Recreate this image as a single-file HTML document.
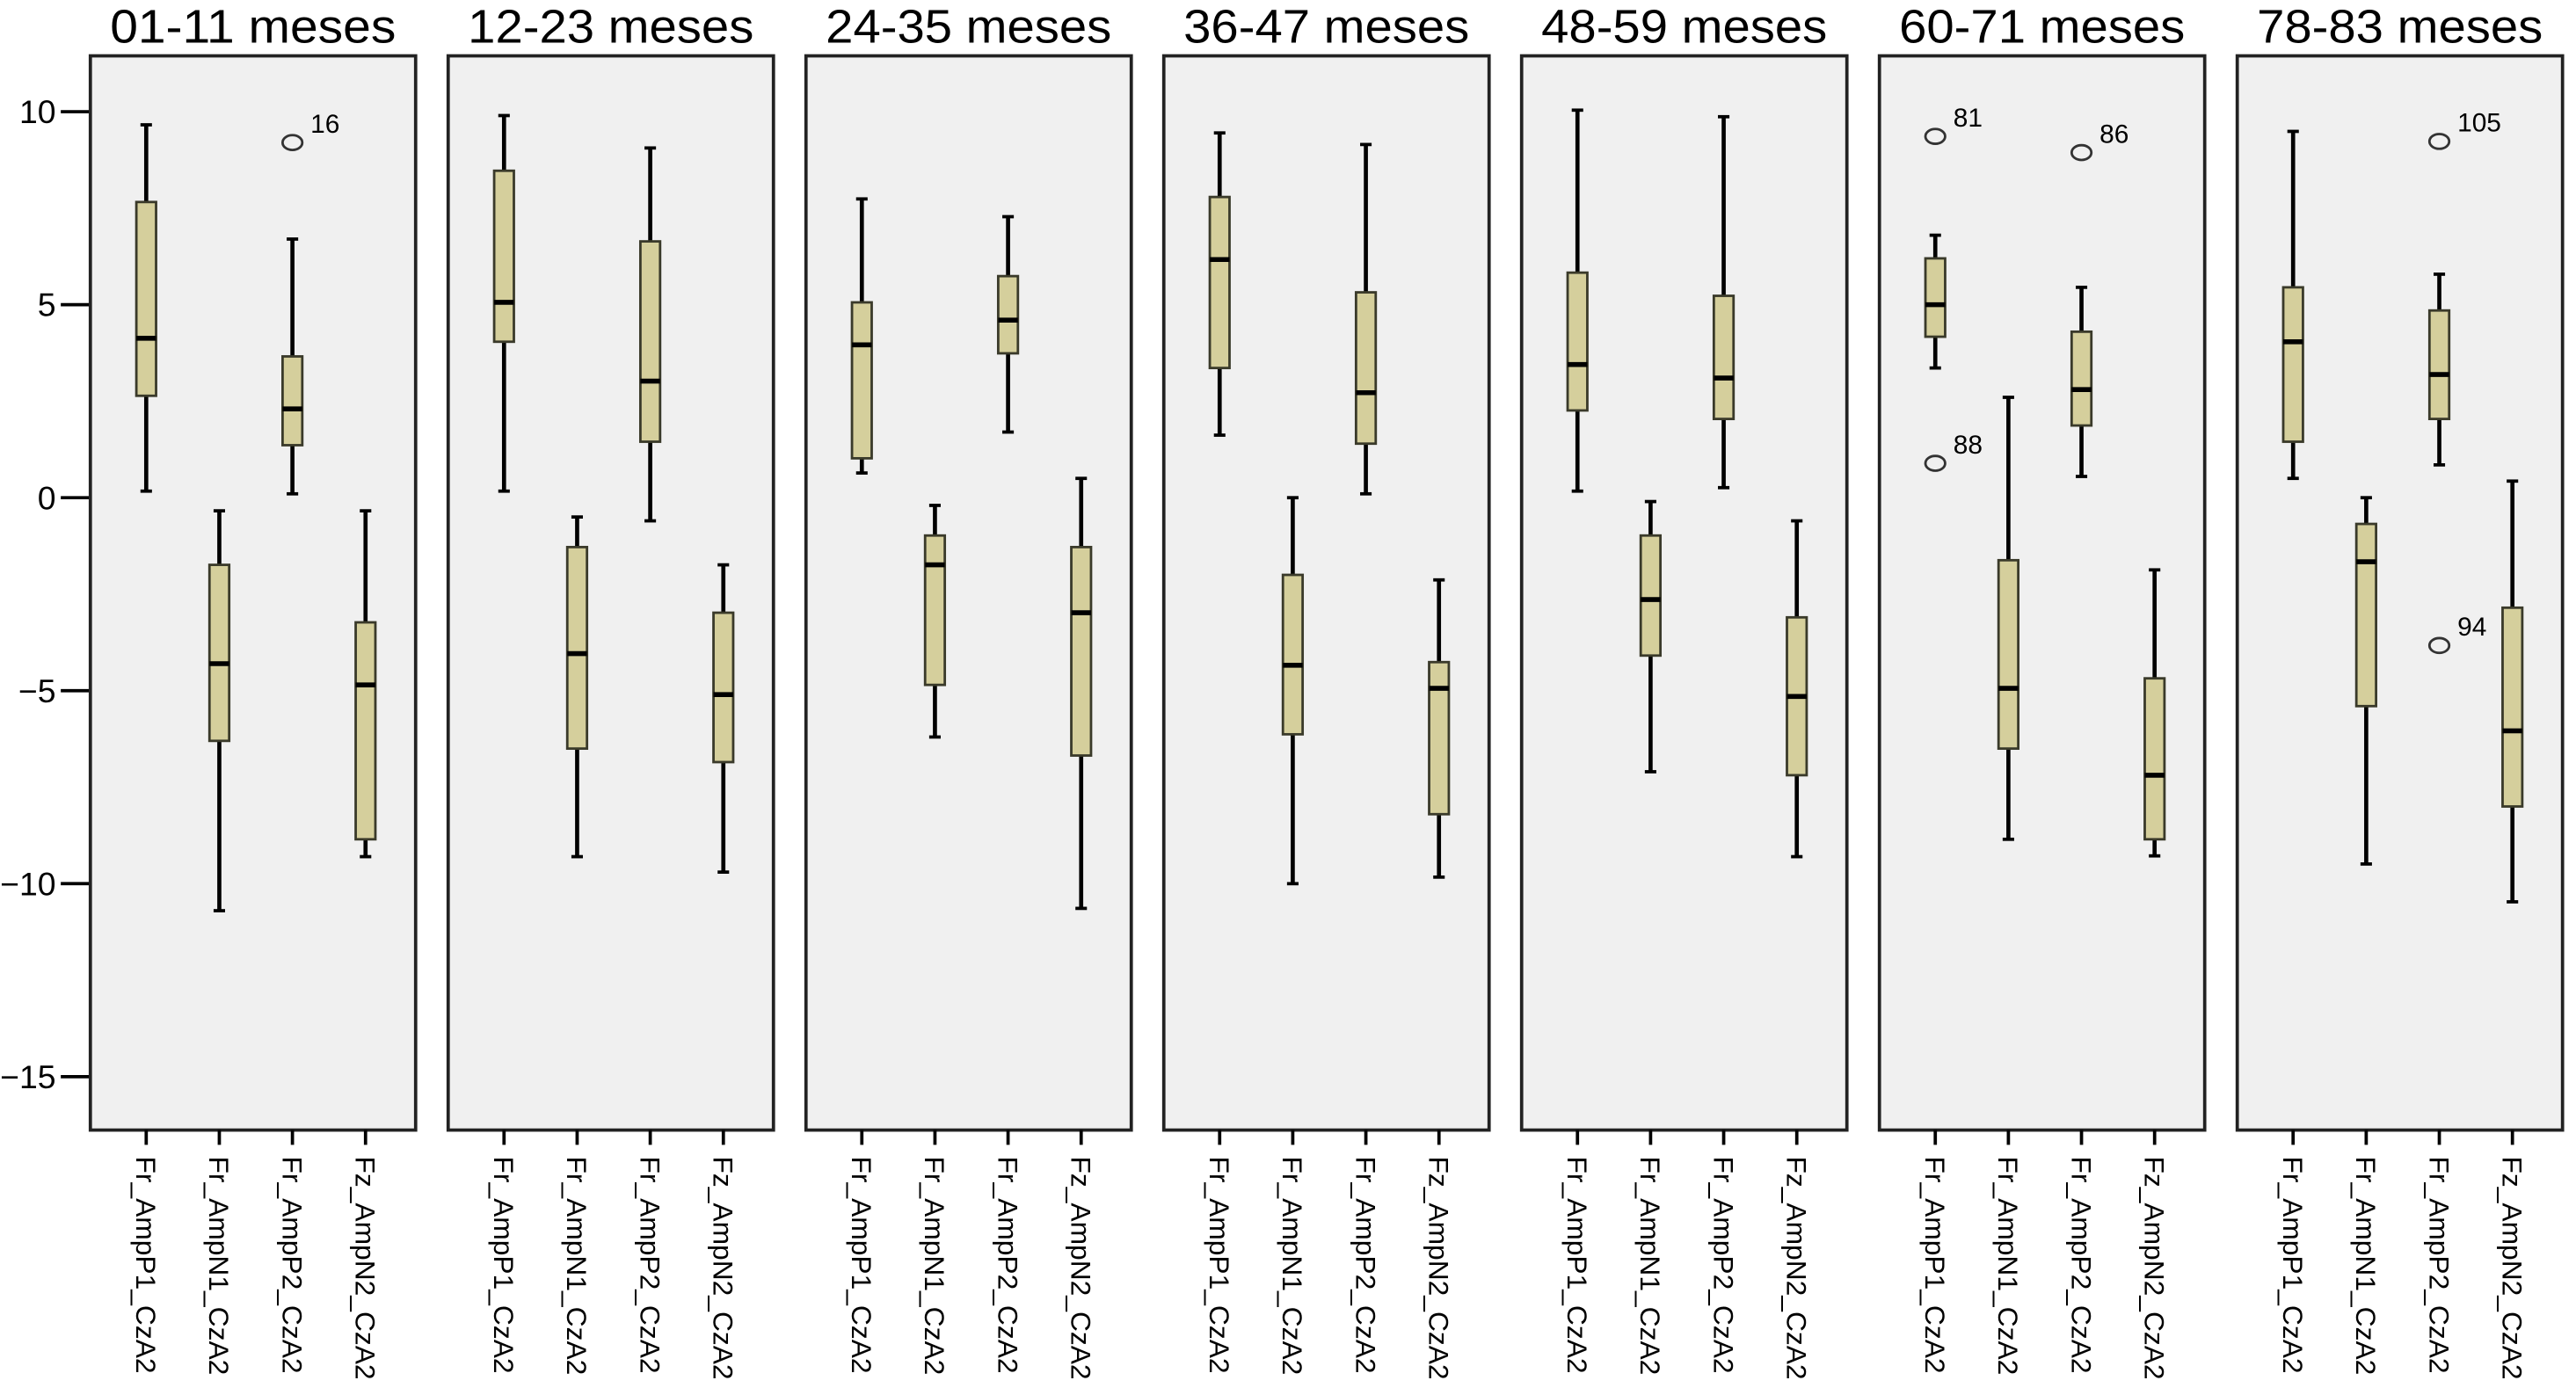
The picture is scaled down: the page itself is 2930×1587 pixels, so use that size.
<!DOCTYPE html>
<html><head><meta charset="utf-8"><style>
html,body{margin:0;padding:0;background:#fff;}
svg{display:block;}
text{font-family:"Liberation Sans",Arial,sans-serif;fill:#000;}
</style></head><body>
<svg id="chart" width="2930" height="1587" viewBox="0 0 1568 849.3" preserveAspectRatio="none" xmlns="http://www.w3.org/2000/svg"></svg>
<script>
const panelTitles = ["01-11 meses","12-23 meses","24-35 meses","36-47 meses","48-59 meses","60-71 meses","78-83 meses"];
const variables = ["Fr_AmpP1_CzA2","Fr_AmpN1_CzA2","Fr_AmpP2_CzA2","Fz_AmpN2_CzA2"];
const yTicks = [10,5,0,-5,-10,-15];
const yTickLabels = ["10","5","0","\u22125","\u221210","\u221215"];
// [min, q1, median, q3, max] per panel per variable
const p1Stats = [[0.17,2.64,4.13,7.66,9.66],[0.17,4.04,5.06,8.47,9.9],[0.64,1.02,3.96,5.06,7.74],[1.62,3.36,6.17,7.79,9.45],[0.17,2.26,3.45,5.83,10.04],[3.36,4.17,5.0,6.2,6.8],[0.5,1.45,4.04,5.45,9.49]];
const n1Stats = [[-10.7,-6.3,-4.3,-1.74,-0.34],[-9.3,-6.5,-4.04,-1.28,-0.5],[-6.2,-4.85,-1.74,-0.98,-0.2],[-10,-6.13,-4.34,-2,0],[-7.1,-4.09,-2.64,-0.98,-0.1],[-8.85,-6.5,-4.94,-1.62,2.6],[-9.49,-5.4,-1.66,-0.68,0]];
const p2Stats = [[0.1,1.36,2.3,3.66,6.7],[-0.6,1.45,3.02,6.64,9.06],[1.7,3.74,4.6,5.74,7.28],[0.1,1.4,2.72,5.32,9.15],[0.26,2.04,3.1,5.23,9.87],[0.55,1.87,2.8,4.3,5.45],[0.85,2.04,3.19,4.85,5.79]];
const n2Stats = [[-9.3,-8.85,-4.85,-3.23,-0.34],[-9.7,-6.85,-5.1,-2.98,-1.74],[-10.64,-6.68,-2.98,-1.28,0.5],[-9.83,-8.2,-4.94,-4.26,-2.13],[-9.3,-7.19,-5.15,-3.1,-0.6],[-9.28,-8.85,-7.19,-4.68,-1.87],[-10.47,-8.0,-6.04,-2.85,0.43]];
// outliers: [panel, variableIndex, value, label]
const outliers = [[0,2,9.2,"16"],[5,0,9.36,"81"],[5,0,0.89,"88"],[5,2,8.94,"86"],[6,2,9.23,"105"],[6,2,-3.83,"94"]];

const NS="http://www.w3.org/2000/svg";
const svgRoot=document.getElementById('chart');
function el(tag,attrs,parent){const e=document.createElementNS(NS,tag);for(const k in attrs)e.setAttribute(k,attrs[k]);(parent||svgRoot).appendChild(e);return e;}
const yScale=v=>303-v*23.5;
const panelX=i=>55+i*217.8;
const panelW=198, panelTop=34, panelBottom=688;
const colX=(i,j)=>panelX(i)+34+j*44.5;
const allStats=[p1Stats,n1Stats,p2Stats,n2Stats];

yTicks.forEach((t,k)=>{
  const ln=el('line',{x1:37,x2:55,y1:yScale(t),y2:yScale(t),stroke:'#000','stroke-width':2});
  
  
  const tx=el('text',{x:34,y:yScale(t)+7,'font-size':20,'text-anchor':'end'});
  tx.textContent=yTickLabels[k];
  
  
});

panelTitles.forEach((title,i)=>{
  const g=el('g',{});
  
  
  const r=el('rect',{x:panelX(i),y:panelTop,width:panelW,height:panelBottom-panelTop,fill:'#f0f0f0',stroke:'#222','stroke-width':2},g);
  
  
  const tt=el('text',{x:panelX(i)+panelW/2,y:26,'font-size':29,'text-anchor':'middle',textLength:174,lengthAdjust:'spacingAndGlyphs'},g);
  tt.textContent=title;
  
  
  variables.forEach((vn,j)=>{
    const cx=colX(i,j);
    const s=allStats[j][i];
    const tk=el('line',{x1:cx,x2:cx,y1:panelBottom,y2:panelBottom+9,stroke:'#000','stroke-width':2},g);
    
    
    const lb=el('text',{x:0,y:0,'font-size':17,transform:`translate(${cx-6},704) rotate(90)`},g);
    lb.textContent=vn;
    
    
    const box=el('g',{},g);
    
    
    el('line',{x1:cx,x2:cx,y1:yScale(s[4]),y2:yScale(s[3]),stroke:'#000','stroke-width':2.5},box);
    el('line',{x1:cx,x2:cx,y1:yScale(s[1]),y2:yScale(s[0]),stroke:'#000','stroke-width':2.5},box);
    el('line',{x1:cx-3.5,x2:cx+3.5,y1:yScale(s[4]),y2:yScale(s[4]),stroke:'#000','stroke-width':2},box);
    el('line',{x1:cx-3.5,x2:cx+3.5,y1:yScale(s[0]),y2:yScale(s[0]),stroke:'#000','stroke-width':2},box);
    el('rect',{x:cx-6,y:yScale(s[3]),width:12,height:yScale(s[1])-yScale(s[3]),fill:'#d5cf9c',stroke:'#3a3a2a','stroke-width':1.5},box);
    el('line',{x1:cx-6,x2:cx+6,y1:yScale(s[2]),y2:yScale(s[2]),stroke:'#000','stroke-width':3},box);
  });
});

outliers.forEach(o=>{
  const cx=colX(o[0],o[1]);
  const c=el('ellipse',{cx:cx,cy:yScale(o[2]),rx:6,ry:4.5,fill:'none',stroke:'#333','stroke-width':1.5});
  
  
  const t=el('text',{x:cx+11,y:yScale(o[2])-6,'font-size':16});
  t.textContent=o[3];
  
  
});
</script>
</body></html>
